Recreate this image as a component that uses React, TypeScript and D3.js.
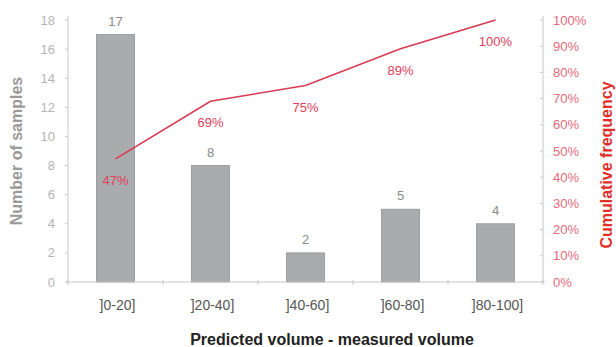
import React from "react";
import * as d3 from "d3";

const categories = ["]0-20]", "]20-40]", "]40-60]", "]60-80]", "]80-100]"];
const counts = [17, 8, 2, 5, 4];
const cumulative = [47, 69, 75, 89, 100];
const leftTicks = [0, 2, 4, 6, 8, 10, 12, 14, 16, 18];
const rightTicks = [0, 10, 20, 30, 40, 50, 60, 70, 80, 90, 100];

const W = 616;
const H = 347;
const left = 68;
const right = 543;
const top = 20;
const bottom = 282;

export default function App() {
  const x = d3.scaleBand<string>().domain(categories).range([left, right]).paddingInner(0).paddingOuter(0);
  const yL = d3.scaleLinear().domain([0, 18]).range([bottom, top]);
  const yR = d3.scaleLinear().domain([0, 100]).range([bottom, top]);
  const bw = x.bandwidth() * 0.4;
  const cx = (c: string) => (x(c) as number) + x.bandwidth() / 2;
  const line = d3
    .line<number>()
    .x((_, i) => cx(categories[i]))
    .y((d) => yR(d));
  const font = "Liberation Sans, Arial, sans-serif";
  const axisColor = "#c8c8c8";
  const tickText = "#b4b4b4";
  const red = "#e0405a";
  const boundaries = categories.map((c) => x(c) as number).concat([right]);

  return (
    <svg width={W} height={H} style={{ position: "absolute", left: 0, top: 0, background: "#fff" }} fontFamily={font}>
      {/* bars */}
      {counts.map((v, i) => (
        <g key={i}>
          <rect
            x={cx(categories[i]) - bw / 2}
            y={yL(v)}
            width={bw}
            height={bottom - yL(v)}
            fill="#a9abad"
            stroke="#909294"
            strokeWidth={0.8}
          />
          <text x={cx(categories[i])} y={yL(v) - 9} textAnchor="middle" fontSize={13} fill="#8a8a8a">
            {v}
          </text>
        </g>
      ))}
      {/* axes */}
      <line x1={left} x2={left} y1={top - 4} y2={bottom} stroke={axisColor} />
      <line x1={right} x2={right} y1={top - 4} y2={bottom} stroke={axisColor} />
      <line x1={left - 2} x2={right + 2} y1={bottom} y2={bottom} stroke={axisColor} />
      {boundaries.map((b, i) => (
        <line key={i} x1={b} x2={b} y1={bottom - 2} y2={bottom + 3} stroke={axisColor} />
      ))}
      {leftTicks.map((t) => (
        <g key={t}>
          <line x1={left - 3} x2={left} y1={yL(t)} y2={yL(t)} stroke={axisColor} />
          <text x={left - 13} y={yL(t)} dy="0.35em" textAnchor="end" fontSize={13} fill={tickText}>
            {t}
          </text>
        </g>
      ))}
      {rightTicks.map((t) => (
        <g key={t}>
          <line x1={right - 3} x2={right} y1={yR(t)} y2={yR(t)} stroke={axisColor} />
          <text x={right + 10} y={yR(t)} dy="0.35em" textAnchor="start" fontSize={13} fill="#e46a7a">
            {t}%
          </text>
        </g>
      ))}
      {categories.map((c) => (
        <text key={c} x={cx(c) + 2} y={bottom + 28} textAnchor="middle" fontSize={14} fill="#555">
          {c}
        </text>
      ))}
      {/* line */}
      <path d={line(cumulative) || ""} fill="none" stroke="#d83a52" strokeWidth={1.6} />
      {cumulative.map((v, i) => (
        <text key={i} x={cx(categories[i])} y={yR(v) + 26} textAnchor="middle" fontSize={13} fill={red}>
          {v}%
        </text>
      ))}
      {/* titles */}
      <text
        transform={`translate(22, ${(top + bottom) / 2}) rotate(-90)`}
        textAnchor="middle"
        fontSize={16}
        fontWeight="bold"
        fill="#9a9a9a"
      >
        Number of samples
      </text>
      <text
        transform={`translate(612, 165) rotate(-90)`}
        textAnchor="middle"
        fontSize={16}
        fontWeight="bold"
        fill="#e0302a"
      >
        Cumulative frequency
      </text>
      <text x={332} y={345} textAnchor="middle" fontSize={16} fontWeight="bold" fill="#222">
        Predicted volume - measured volume
      </text>
    </svg>
  );
}
